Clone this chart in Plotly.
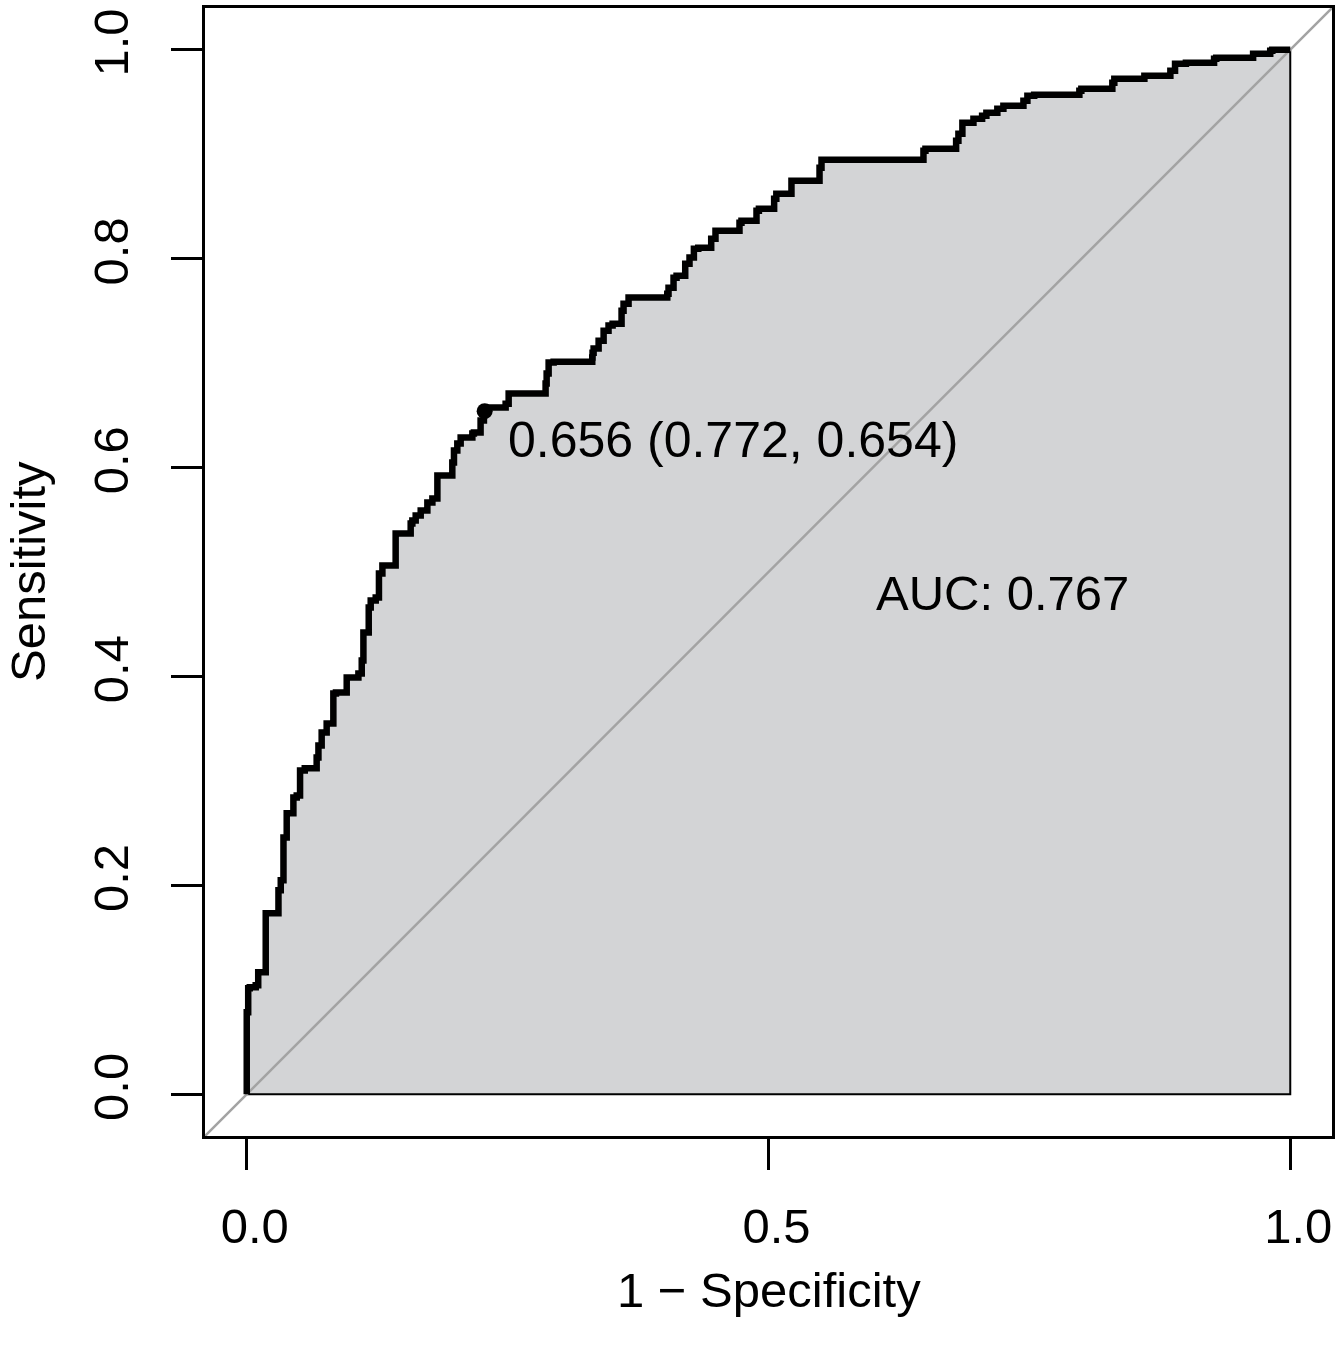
import plotly.graph_objects as go

# ROC curve (1 - specificity, sensitivity)
fpr = [0.0, 0.0, 0.0014, 0.0029, 0.0086, 0.0110, 0.0110, 0.0182, 0.0182, 0.0211,
       0.0304, 0.0304, 0.0326, 0.0352, 0.0352, 0.0383, 0.0412, 0.0447, 0.0479, 0.0511,
       0.0556, 0.0575, 0.0670, 0.0687, 0.0718, 0.0766, 0.0830, 0.0855, 0.0958, 0.0974,
       0.1070, 0.1102, 0.1118, 0.1118, 0.1169, 0.1188, 0.1236, 0.1267, 0.1300, 0.1331,
       0.1427, 0.1434, 0.1571, 0.1587, 0.1619, 0.1667, 0.1731, 0.1779, 0.1827, 0.1858,
       0.1970, 0.1986, 0.2018, 0.2050, 0.2098, 0.2162, 0.2177, 0.2241, 0.2273, 0.228,
       0.2481, 0.2510, 0.2557, 0.2864, 0.2874, 0.2893, 0.2941, 0.3311, 0.3314, 0.3324,
       0.3372, 0.3420, 0.3467, 0.3506, 0.3592, 0.3611, 0.3659, 0.3678, 0.4030, 0.4042,
       0.4090, 0.4119, 0.4202, 0.4243, 0.4285, 0.4327, 0.4451, 0.4492, 0.4555, 0.4722,
       0.4741, 0.4885, 0.4908, 0.5054, 0.5075, 0.5220, 0.5259, 0.5489, 0.5508, 0.5594,
       0.6485, 0.6504, 0.6798, 0.6820, 0.6858, 0.6964, 0.7047, 0.7088, 0.7193, 0.7251,
       0.7443, 0.7481, 0.7546, 0.7979, 0.7998, 0.8295, 0.8314, 0.8602, 0.8625, 0.8851,
       0.8896, 0.9000, 0.9270, 0.9291, 0.9644, 0.9665, 0.9808, 0.9828, 1.0]
tpr = [0.0, 0.0737, 0.0785, 0.1014, 0.1024, 0.1043, 0.1167, 0.1167, 0.1636, 0.1732,
       0.1732, 0.1876, 0.1952, 0.2048, 0.2287, 0.2459, 0.2689, 0.2689, 0.2842, 0.2861,
       0.3100, 0.3120, 0.3120, 0.3225, 0.3340, 0.3464, 0.3550, 0.3837, 0.3847, 0.3990,
       0.3990, 0.4029, 0.4153, 0.4411, 0.4421, 0.4660, 0.4727, 0.4756, 0.4986, 0.5062,
       0.5062, 0.5368, 0.5368, 0.5464, 0.5493, 0.5541, 0.5589, 0.5665, 0.5703, 0.5923,
       0.5923, 0.6048, 0.6163, 0.6230, 0.6287, 0.6287, 0.6325, 0.6335, 0.6450, 0.654,
       0.6574, 0.6612, 0.6708, 0.6708, 0.6804, 0.6900, 0.7005, 0.7014, 0.7053, 0.7100,
       0.7139, 0.7215, 0.7311, 0.7359, 0.7378, 0.7502, 0.7569, 0.7627, 0.7627, 0.7665,
       0.7722, 0.7818, 0.7837, 0.7952, 0.8010, 0.8096, 0.8105, 0.8191, 0.8268, 0.8268,
       0.8344, 0.8364, 0.8459, 0.8478, 0.8574, 0.8622, 0.8746, 0.8746, 0.8871, 0.8947,
       0.8947, 0.9033, 0.9053, 0.9129, 0.9196, 0.9301, 0.9340, 0.9368, 0.9397, 0.9435,
       0.9464, 0.9512, 0.9560, 0.9569, 0.9608, 0.9627, 0.9684, 0.9722, 0.9751, 0.9751,
       0.9799, 0.9866, 0.9876, 0.9914, 0.9923, 0.9962, 0.9962, 0.9990, 1.0]

best_threshold = 0.656
best_specificity = 0.772
best_sensitivity = 0.654
auc_value = 0.767

x_ticks = [0.0, 0.5, 1.0]
x_ticktext = ["0.0", "0.5", "1.0"]
y_ticks = [0.0, 0.2, 0.4, 0.6, 0.8, 1.0]
y_ticktext = ["0.0", "0.2", "0.4", "0.6", "0.8", "1.0"]

FONT = "Liberation Sans, Arial, Helvetica, sans-serif"
FS = 49

fig = go.Figure()

# AUC polygon
fig.add_trace(go.Scatter(
    x=fpr + [1.0, 0.0], y=tpr + [0.0, 0.0],
    mode="lines", line=dict(color="black", width=2, shape="vh"),
    fill="toself", fillcolor="#d3d4d6", hoverinfo="skip", showlegend=False))

# diagonal reference line across the whole plot region
fig.add_trace(go.Scatter(
    x=[-0.04, 1.04], y=[-0.04, 1.04], mode="lines",
    line=dict(color="#a3a3a3", width=2.5), hoverinfo="skip", showlegend=False))

# ROC curve
fig.add_trace(go.Scatter(
    x=fpr, y=tpr, mode="lines",
    line=dict(color="black", width=6.5, shape="vh"), showlegend=False))

# best threshold point
bx = 1 - best_specificity
fig.add_trace(go.Scatter(
    x=[bx], y=[best_sensitivity], mode="markers",
    marker=dict(color="black", size=16), showlegend=False))

fig.add_annotation(
    x=bx + 0.020, y=best_sensitivity - 0.028, xref="x", yref="y",
    text=f"{best_threshold:.3f} ({best_specificity:.3f}, {best_sensitivity:.3f})",
    showarrow=False, xanchor="left", yanchor="middle",
    font=dict(family=FONT, size=50, color="black"))

fig.add_annotation(
    x=0.6015, y=0.48, xref="x", yref="y",
    text=f"AUC: {auc_value:.3f}", showarrow=False,
    xanchor="left", yanchor="middle",
    font=dict(family=FONT, size=FS, color="black"))

# axis titles
fig.add_annotation(
    x=0.5, y=0, xref="paper", yref="paper", yshift=-154,
    text="1 \u2212 Specificity", showarrow=False,
    xanchor="center", yanchor="middle",
    font=dict(family=FONT, size=FS, color="black"))
fig.add_annotation(
    x=0, y=0.5, xref="paper", yref="paper", xshift=-177,
    text="Sensitivity", textangle=-90, showarrow=False,
    xanchor="center", yanchor="middle",
    font=dict(family=FONT, size=FS, color="black"))

axis_common = dict(
    range=[-0.04, 1.04], showgrid=False, zeroline=False,
    showline=True, mirror=True, linecolor="black", linewidth=2.5,
    ticks="outside", ticklen=31, tickwidth=2.5, tickcolor="black",
    tickfont=dict(family=FONT, size=FS, color="black"),
)

fig.update_xaxes(tickvals=x_ticks, ticktext=x_ticktext,
                 ticklabelstandoff=14, ticklabelshift=8, **axis_common)
fig.update_yaxes(tickvals=y_ticks, ticktext=y_ticktext, tickangle=-90,
                 ticklabelstandoff=24, **axis_common)

fig.update_layout(
    width=1341, height=1351,
    margin=dict(l=205, r=9, t=5, b=215),
    plot_bgcolor="white", paper_bgcolor="white",
    showlegend=False,
)

fig.write_html("out.html", config={"displayModeBar": False},
               post_script="document.body.style.margin='0';")
